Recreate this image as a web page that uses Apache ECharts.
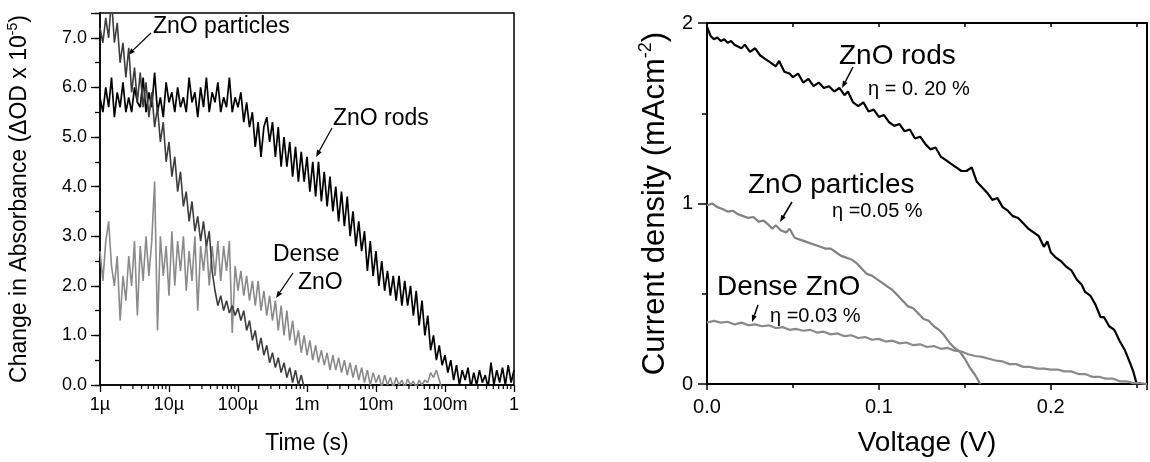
<!DOCTYPE html>
<html><head><meta charset="utf-8">
<script src="https://cdn.jsdelivr.net/npm/echarts@6/dist/echarts.min.js"></script>
<style>html,body{margin:0;padding:0;background:#fff}#c{width:1150px;height:462px}</style>
</head><body><div id="c"></div>
<script>
// ---------- Left panel: transient absorption ----------
const timeMantissas = [1,1.101,1.212,1.334,1.468,1.616,1.778,1.957,2.154,2.371,2.610,2.873,3.162,3.481,3.831,4.217,4.642,5.109,5.623,6.190,6.813,7.499,8.254,9.085];
const timeDecades = [1e-6,1e-5,1e-4,1e-3,1e-2,1e-1];
const timeLast = 1;
const timeTickLabels = ['1µ','10µ','100µ','1m','10m','100m','1'];
const minorMantissas = [2,3,4,5,6,7,8,9];
const absTickLabels = ['0.0','1.0','2.0','3.0','4.0','5.0','6.0','7.0'];

const rodsTAS = [
5.8,5.5,6.0,5.6,6.2,5.4,5.9,5.6,6.1,5.5,5.8,5.5,
6.0,5.7,5.6,6.2,5.5,5.9,5.6,6.3,5.5,5.8,5.4,6.1,
5.7,5.9,5.5,6.0,5.6,5.8,5.5,6.2,5.7,5.9,5.4,6.0,
5.6,6.2,5.5,5.9,5.7,6.1,5.5,5.8,5.6,6.2,5.5,5.8,
5.6,5.9,5.3,5.7,5.2,5.5,4.8,5.3,4.6,5.2,5.4,4.9,
5.3,4.6,5.2,4.4,5.0,4.4,4.9,4.2,4.8,4.1,4.7,4.1,
4.6,3.9,4.5,3.8,4.5,3.7,4.3,3.6,4.2,3.5,4.0,3.3,
3.9,3.2,3.8,3.0,3.5,2.8,3.3,2.7,3.1,2.3,2.9,2.2,
2.7,2.0,2.5,1.9,2.3,1.8,2.2,1.7,2.2,1.6,2.1,1.6,
2.0,1.4,1.9,1.2,1.7,1.0,1.4,0.7,1.0,0.5,0.8,0.4,
0.6,0.25,0.5,0.1,0.4,0.0,0.3,0.1,0.35,-0.05,0.25,0.0,
0.3,0.05,0.2,-0.05,0.45,0.0,0.3,0.05,0.35,0.0,0.4,0.05,
0.3];
const particlesTAS = [
7.2,6.9,7.4,7.0,7.8,6.9,7.3,6.5,6.9,6.2,6.8,5.9,
6.4,5.7,6.3,5.6,6.1,5.4,5.9,5.2,5.6,4.9,5.3,4.5,
4.9,4.2,4.6,3.9,4.3,3.6,3.9,3.3,3.7,3.1,3.4,2.9,
3.3,2.8,3.1,2.3,1.9,1.6,1.8,1.5,1.7,1.45,1.6,1.4,
1.55,1.3,1.5,1.1,1.3,0.9,1.1,0.7,0.95,0.6,0.8,0.45,
0.65,0.35,0.55,0.25,0.45,0.15,0.35,0.05,0.3,0.0,0.2,-0.05];
const denseTAS = [
2.7,2.1,2.9,3.3,2.4,2.0,2.6,1.3,2.2,1.7,2.6,2.0,
2.9,1.4,2.8,2.1,3.0,2.2,2.9,4.1,1.1,3.0,2.2,2.8,
1.8,3.1,2.0,2.9,2.3,3.0,1.9,2.7,2.1,3.0,1.5,2.8,
2.3,2.9,2.0,2.8,2.2,2.9,2.1,2.8,2.3,2.9,1.05,2.4,
1.9,2.3,1.8,2.2,1.7,2.1,1.6,2.1,1.5,1.9,1.4,1.8,
1.3,1.7,1.1,1.6,1.0,1.5,0.9,1.3,0.8,1.1,0.65,1.0,
0.6,0.9,0.5,0.8,0.45,0.7,0.4,0.65,0.3,0.6,0.3,0.55,
0.25,0.5,0.2,0.45,0.15,0.4,0.1,0.35,0.05,0.3,0.0,0.25,
0.05,0.2,-0.05,0.2,0.0,0.15,-0.05,0.15,0.0,0.1,-0.05,0.12,
0.0,0.08,-0.05,0.1,0.0,0.1,0.05,0.25,0.15,0.3,0.1,-0.1];

// ---------- Right panel: J-V curves ----------
const voltTickLabels = ['0.0','0.1','0.2'];
const currTickLabels = ['0','1','2'];
const rodsJV = [[0,1.98],[0.002,1.93],[0.004,1.91],[0.006,1.92],[0.008,1.90],[0.010,1.91],[0.012,1.89],[0.014,1.90],[0.016,1.88],[0.018,1.87],[0.020,1.86],[0.022,1.88],[0.025,1.84],[0.028,1.86],[0.031,1.82],[0.034,1.80],[0.037,1.78],[0.040,1.76],[0.042,1.79],[0.045,1.73],[0.048,1.72],[0.050,1.70],[0.053,1.72],[0.056,1.67],[0.059,1.69],[0.062,1.65],[0.065,1.67],[0.068,1.64],[0.071,1.65],[0.074,1.62],[0.077,1.64],[0.080,1.60],[0.082,1.62],[0.085,1.56],[0.088,1.54],[0.091,1.56],[0.094,1.51],[0.097,1.52],[0.100,1.48],[0.103,1.49],[0.106,1.45],[0.109,1.43],[0.112,1.44],[0.115,1.40],[0.118,1.41],[0.121,1.36],[0.124,1.37],[0.127,1.33],[0.130,1.30],[0.133,1.31],[0.136,1.26],[0.139,1.24],[0.142,1.22],[0.145,1.20],[0.148,1.18],[0.151,1.18],[0.154,1.20],[0.157,1.12],[0.160,1.09],[0.163,1.06],[0.166,1.02],[0.169,1.03],[0.172,0.98],[0.175,0.96],[0.178,0.93],[0.181,0.92],[0.184,0.89],[0.187,0.86],[0.190,0.84],[0.193,0.82],[0.196,0.76],[0.198,0.79],[0.200,0.73],[0.203,0.70],[0.206,0.68],[0.209,0.65],[0.212,0.63],[0.215,0.58],[0.218,0.55],[0.220,0.51],[0.223,0.49],[0.226,0.44],[0.229,0.37],[0.231,0.37],[0.234,0.32],[0.237,0.30],[0.240,0.24],[0.243,0.19],[0.246,0.12],[0.248,0.07],[0.250,0.0]];
const particlesJV = [[0,0.99],[0.003,1.0],[0.006,0.98],[0.009,0.97],[0.012,0.955],[0.015,0.96],[0.018,0.94],[0.021,0.93],[0.024,0.92],[0.027,0.925],[0.030,0.90],[0.033,0.905],[0.036,0.88],[0.038,0.86],[0.040,0.88],[0.043,0.85],[0.046,0.84],[0.048,0.86],[0.051,0.81],[0.054,0.80],[0.057,0.79],[0.060,0.78],[0.063,0.77],[0.066,0.76],[0.069,0.75],[0.072,0.75],[0.075,0.73],[0.078,0.71],[0.081,0.70],[0.084,0.69],[0.087,0.67],[0.090,0.64],[0.093,0.61],[0.096,0.60],[0.099,0.58],[0.102,0.56],[0.105,0.54],[0.108,0.52],[0.111,0.49],[0.114,0.46],[0.117,0.43],[0.120,0.42],[0.123,0.39],[0.126,0.36],[0.129,0.35],[0.132,0.32],[0.135,0.30],[0.138,0.27],[0.141,0.23],[0.144,0.20],[0.147,0.18],[0.150,0.14],[0.153,0.09],[0.156,0.05],[0.159,0.0]];
const denseJV = [[0,0.34],[0.004,0.35],[0.008,0.34],[0.012,0.345],[0.016,0.33],[0.020,0.34],[0.024,0.325],[0.028,0.33],[0.032,0.32],[0.036,0.325],[0.040,0.31],[0.044,0.315],[0.048,0.30],[0.052,0.305],[0.056,0.295],[0.060,0.30],[0.064,0.285],[0.068,0.29],[0.072,0.275],[0.076,0.28],[0.080,0.265],[0.084,0.27],[0.088,0.255],[0.092,0.26],[0.096,0.245],[0.100,0.25],[0.104,0.235],[0.108,0.24],[0.112,0.225],[0.116,0.23],[0.120,0.215],[0.124,0.22],[0.128,0.205],[0.132,0.21],[0.136,0.195],[0.140,0.20],[0.144,0.185],[0.148,0.18],[0.152,0.165],[0.156,0.155],[0.160,0.15],[0.164,0.14],[0.168,0.13],[0.172,0.125],[0.176,0.11],[0.180,0.11],[0.184,0.095],[0.188,0.095],[0.192,0.085],[0.196,0.085],[0.200,0.08],[0.204,0.08],[0.208,0.07],[0.212,0.07],[0.216,0.055],[0.220,0.055],[0.224,0.04],[0.228,0.04],[0.232,0.03],[0.236,0.03],[0.240,0.015],[0.244,0.015],[0.248,0.005],[0.252,0.005],[0.256,0]];

// ---------- build tables ----------
const times = timeDecades.flatMap(d => timeMantissas.map(m => m * d)).concat([timeLast]);
const pair = vals => vals.map((v, i) => [times[i], v]);
const minorTimes = timeDecades.flatMap(d => minorMantissas.map(m => [m * d, 0]));

const FONT = '"Liberation Sans", Arial, sans-serif';
const chart = echarts.init(document.getElementById('c'), null, {renderer: 'canvas'});

function arrow(x1, y1, x2, y2, w) {
  const a = Math.atan2(y2 - y1, x2 - x1), L = 7, W = 2.6;
  const bx = x2 - L * Math.cos(a), by = y2 - L * Math.sin(a);
  const px = -Math.sin(a) * W, py = Math.cos(a) * W;
  return [
    {type: 'line', shape: {x1, y1, x2: bx, y2: by}, style: {stroke: '#000', lineWidth: w || 1.2}, silent: true},
    {type: 'polygon', shape: {points: [[x2, y2], [bx + px, by + py], [bx - px, by - py]]}, style: {fill: '#000'}, silent: true}
  ];
}
function label(text, x, y, size) {
  return {type: 'text', silent: true, style: {text, x, y, font: size + 'px ' + FONT, fill: '#000',
    textAlign: 'left', textVerticalAlign: 'middle', align: 'left', verticalAlign: 'middle'}};
}

const tickStyle = w => ({lineStyle: {color: '#000', width: w}});

const option = {
  animation: false,
  backgroundColor: '#fff',
  textStyle: {fontFamily: FONT},
  grid: [
    {left: 100, top: 13, width: 414, height: 372, show: true, borderColor: '#000', borderWidth: 1.5, backgroundColor: 'transparent'},
    {left: 707, top: 23, width: 447, height: 364, show: true, borderColor: '#000', borderWidth: 2, backgroundColor: 'transparent'}
  ],
  xAxis: [
    {type: 'log', gridIndex: 0, logBase: 10, min: 1e-6, max: 1, splitNumber: 6, position: 'bottom',
     axisLine: {lineStyle: {color: '#000', width: 1.5}},
     axisTick: {show: true, length: 7, inside: false, ...tickStyle(1.3)},
     axisLabel: {color: '#000', fontSize: 18, fontFamily: FONT, margin: 11,
       formatter: v => timeTickLabels[Math.round(Math.log10(v)) + 6]},
     splitLine: {show: false},
     name: 'Time (s)', nameLocation: 'middle', nameGap: 47,
     nameTextStyle: {color: '#000', fontSize: 23, fontFamily: FONT}},
    {type: 'value', gridIndex: 1, min: 0, max: 0.256, interval: 0.1, position: 'bottom',
     axisLine: {lineStyle: {color: '#000', width: 2}},
     axisTick: {show: true, length: 6, ...tickStyle(1.5)},
     axisLabel: {color: '#000', fontSize: 20, fontFamily: FONT, margin: 13,
       formatter: v => { const i = Math.round(v * 10); return Math.abs(v - i / 10) < 1e-6 ? voltTickLabels[i] || '' : ''; }},
     splitLine: {show: false},
     name: 'Voltage (V)', nameLocation: 'middle', nameGap: 45,
     nameTextStyle: {color: '#000', fontSize: 28, fontFamily: FONT}},
    {type: 'value', gridIndex: 1, min: 0, max: 0.256, interval: 0.05, position: 'bottom',
     axisLine: {show: false}, axisTick: {show: true, length: 4, ...tickStyle(1.5)},
     axisLabel: {show: false}, splitLine: {show: false}},
    {type: 'value', gridIndex: 1, min: 0, max: 0.256, interval: 0.05, position: 'top',
     axisLine: {show: true, lineStyle: {color: '#000', width: 2}},
     axisTick: {show: true, inside: true, length: 4, ...tickStyle(1.5)},
     axisLabel: {show: false}, splitLine: {show: false}}
  ],
  yAxis: [
    {type: 'value', gridIndex: 0, min: 0, max: 7.5, interval: 1, position: 'left',
     axisLine: {show: true, lineStyle: {color: '#000', width: 1.5}},
     axisTick: {show: true, length: 9, ...tickStyle(1.3)},
     axisLabel: {color: '#000', fontSize: 18, fontFamily: FONT, margin: 13,
       formatter: v => Number.isInteger(v) ? absTickLabels[v] || '' : ''},
     splitLine: {show: false},
     name: 'Change in Absorbance (ΔOD x 10{sup|-5})', nameLocation: 'middle', nameGap: 66, nameRotate: 90,
     nameTextStyle: {color: '#000', fontSize: 23, fontFamily: FONT, lineHeight: 28,
       rich: {sup: {fontSize: 14, fontFamily: FONT, color: '#000', verticalAlign: 'top', lineHeight: 14}}}},
    {type: 'value', gridIndex: 0, min: 0, max: 7.5, interval: 0.5, position: 'left', offset: 0,
     axisLine: {show: false}, axisTick: {show: true, length: 5, ...tickStyle(1.3)},
     axisLabel: {show: false}, splitLine: {show: false}},
    {type: 'value', gridIndex: 1, min: 0, max: 2, interval: 1, position: 'left',
     axisLine: {show: true, lineStyle: {color: '#000', width: 2}},
     axisTick: {show: true, length: 9, ...tickStyle(1.5)},
     axisLabel: {color: '#000', fontSize: 20, fontFamily: FONT, margin: 14,
       formatter: v => currTickLabels[v] || ''},
     splitLine: {show: false},
     name: 'Current density (mAcm{sup|-2})', nameLocation: 'middle', nameGap: 34, nameRotate: 90,
     nameTextStyle: {color: '#000', fontSize: 31, fontFamily: FONT, lineHeight: 36,
       rich: {sup: {fontSize: 18, fontFamily: FONT, color: '#000', verticalAlign: 'top', lineHeight: 18}}}},
    {type: 'value', gridIndex: 1, min: 0, max: 2, interval: 0.5, position: 'left', offset: 0,
     axisLine: {show: false}, axisTick: {show: true, length: 5, ...tickStyle(1.5)},
     axisLabel: {show: false}, splitLine: {show: false}}
  ],
  series: [
    {type: 'custom', xAxisIndex: 0, yAxisIndex: 0, silent: true, clip: false, data: minorTimes,
     encode: {x: 0, y: 1},
     renderItem: (params, api) => {
       const p = api.coord([api.value(0), 0]);
       return {type: 'line', shape: {x1: p[0], y1: p[1], x2: p[0], y2: p[1] + 4}, style: {stroke: '#000', lineWidth: 1.2}};
     }},
    {name: 'ZnO rods', type: 'line', xAxisIndex: 0, yAxisIndex: 0, data: pair(rodsTAS), showSymbol: false,
     lineStyle: {color: '#000', width: 1.7}, clip: true},
    {name: 'Dense ZnO', type: 'line', xAxisIndex: 0, yAxisIndex: 0, data: pair(denseTAS), showSymbol: false,
     lineStyle: {color: '#8a8a8a', width: 1.6}, clip: true},
    {name: 'ZnO particles', type: 'line', xAxisIndex: 0, yAxisIndex: 0, data: pair(particlesTAS), showSymbol: false,
     lineStyle: {color: '#3d3d3d', width: 1.6}, clip: true},
    {name: 'ZnO rods JV', type: 'line', xAxisIndex: 1, yAxisIndex: 2, data: rodsJV, showSymbol: false,
     lineStyle: {color: '#000', width: 2.2}, clip: true},
    {name: 'ZnO particles JV', type: 'line', xAxisIndex: 1, yAxisIndex: 2, data: particlesJV, showSymbol: false,
     lineStyle: {color: '#828282', width: 2.2}, clip: true},
    {name: 'Dense ZnO JV', type: 'line', xAxisIndex: 1, yAxisIndex: 2, data: denseJV, showSymbol: false,
     lineStyle: {color: '#8a8a8a', width: 2.2}, clip: true}
  ],
  graphic: [
    label('ZnO particles', 153, 27, 23),
    ...arrow(151, 33, 128, 55),
    label('ZnO rods', 333, 119, 23),
    ...arrow(332, 128, 316, 157),
    label('Dense', 273, 255, 23),
    label('ZnO', 298, 283, 23),
    ...arrow(293, 273, 276, 298),
    label('ZnO rods', 839, 56, 28),
    label('η = 0. 20 %', 868, 89, 20),
    ...arrow(853, 67, 842, 88, 1.5),
    label('ZnO particles', 748, 185, 28),
    label('η =0.05 %', 832, 211, 20),
    ...arrow(792, 202, 780, 222, 1.5),
    label('Dense ZnO', 717, 287, 28),
    label('η =0.03 %', 770, 316, 20),
    ...arrow(758, 305, 752, 322, 1.5)
  ]
};
chart.setOption(option);
</script></body></html>
